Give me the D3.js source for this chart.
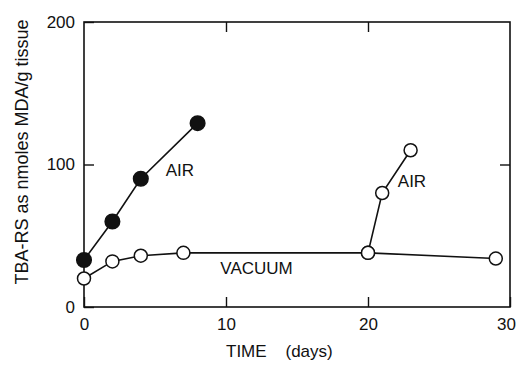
<!DOCTYPE html>
<html>
<head>
<meta charset="utf-8">
<script src="https://cdn.jsdelivr.net/npm/d3@7"></script>
<style>
  body { margin: 0; background: #fff; }
  text { font-family: "Liberation Sans", Arial, sans-serif; fill: #111; }
</style>
</head>
<body>
<div id="chart"></div>
<script>
// Data
const airDays = [0, 2, 4, 8];
const airValues = [33, 60, 90, 129];
const vacuumDays = [0, 2, 4, 7, 20, 29];
const vacuumValues = [20, 32, 36, 38, 38, 34];
const air2Days = [20, 21, 23];
const air2Values = [38, 80, 110];
const xTicks = [0, 10, 20, 30];
const yTicks = [0, 100, 200];

const W = 519, H = 365;
const margin = { top: 22, right: 9, bottom: 58, left: 84 };
const width = W - margin.left - margin.right;
const height = H - margin.top - margin.bottom;

const svg = d3.select('#chart')
    .append('svg')
    .attr('width', W)
    .attr('height', H);

const g = svg.append('g')
    .attr('transform', `translate(${margin.left},${margin.top})`);

const x = d3.scaleLinear().domain([0, 30]).range([0, width]);
const y = d3.scaleLinear().domain([0, 200]).range([height, 0]);

// Frame
g.append('rect')
    .attr('width', width)
    .attr('height', height)
    .attr('fill', 'none')
    .attr('stroke', '#111')
    .attr('stroke-width', 1.6);

// Axes (ticks point inward)
const styleAxis = sel => {
    sel.select('.domain').remove();
    sel.selectAll('line').attr('stroke', '#111').attr('stroke-width', 1.4);
    sel.selectAll('text').style('font-size', '17px').attr('fill', '#111');
};

g.append('g')
    .attr('transform', `translate(0,${height})`)
    .call(d3.axisBottom(x).tickValues(xTicks).tickSize(-10).tickPadding(11))
    .call(styleAxis)
    .selectAll('text')
    .attr('dx', d => d === 30 ? -4 : 0);

g.append('g')
    .call(d3.axisTop(x).tickValues([10, 20]).tickSize(-10).tickFormat(''))
    .call(styleAxis);

g.append('g')
    .call(d3.axisLeft(y).tickValues(yTicks).tickSize(-10).tickPadding(9))
    .call(styleAxis);

g.append('g')
    .attr('transform', `translate(${width},0)`)
    .call(d3.axisRight(y).tickValues([100]).tickSize(-10).tickFormat(''))
    .call(styleAxis);

// Series
const line = d3.line().x(d => x(d[0])).y(d => y(d[1]));
const zip = (a, b) => a.map((d, i) => [d, b[i]]);

const series = [
    { pts: zip(vacuumDays, vacuumValues), filled: false },
    { pts: zip(air2Days, air2Values), filled: false },
    { pts: zip(airDays, airValues), filled: true }
];

series.forEach(s => {
    g.append('path')
        .datum(s.pts)
        .attr('d', line)
        .attr('fill', 'none')
        .attr('stroke', '#111')
        .attr('stroke-width', 1.6);
});

series.forEach(s => {
    g.selectAll(null)
        .data(s.pts)
        .enter()
        .append('circle')
        .attr('cx', d => x(d[0]))
        .attr('cy', d => y(d[1]))
        .attr('r', s.filled ? 7.3 : 6.5)
        .attr('fill', s.filled ? '#111' : '#fff')
        .attr('stroke', '#111')
        .attr('stroke-width', 1.5);
});

// Annotations
const labels = [
    { text: 'AIR', day: 5.75, value: 92 },
    { text: 'AIR', day: 22.1, value: 84 },
    { text: 'VACUUM', day: 9.6, value: 23 }
];
g.selectAll('.annot')
    .data(labels)
    .enter()
    .append('text')
    .attr('class', 'annot')
    .attr('x', d => x(d.day))
    .attr('y', d => y(d.value))
    .style('font-size', '17px')
    .text(d => d.text);

// Axis titles
svg.append('text')
    .attr('x', 226)
    .attr('y', 357)
    .style('font-size', '17px')
    .style('white-space', 'pre')
    .text('TIME    (days)');

svg.append('text')
    .attr('transform', 'translate(28,152) rotate(-90)')
    .attr('text-anchor', 'middle')
    .style('font-size', '18px')
    .text('TBA-RS as nmoles MDA/g tissue');
</script>
</body>
</html>
